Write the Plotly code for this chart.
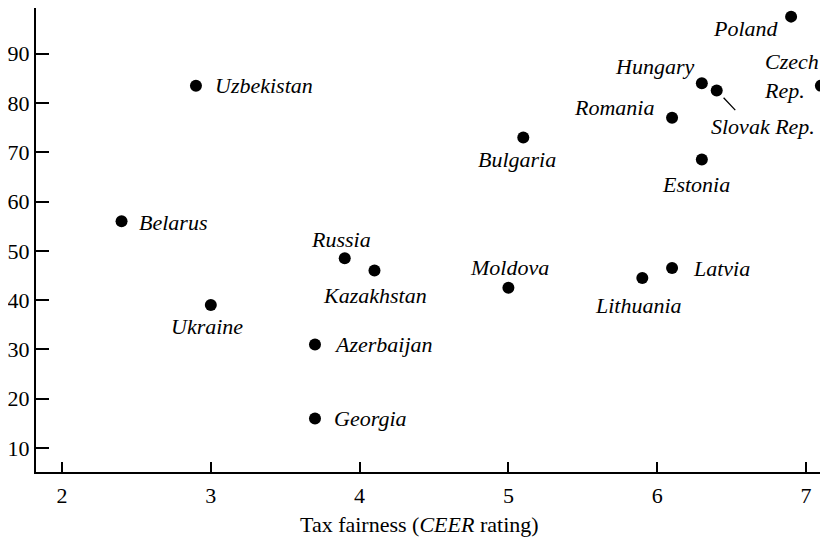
import plotly.graph_objects as go

countries = ['Poland', 'Czech<br>Rep.', 'Hungary', 'Slovak Rep.', 'Romania', 'Estonia',
             'Bulgaria', 'Moldova', 'Lithuania', 'Latvia', 'Uzbekistan', 'Belarus',
             'Russia', 'Kazakhstan', 'Ukraine', 'Azerbaijan', 'Georgia']
tax_fairness = [6.9, 7.1, 6.3, 6.4, 6.1, 6.3, 5.1, 5.0, 5.9, 6.1, 2.9, 2.4,
                3.9, 4.1, 3.0, 3.7, 3.7]
y_values = [97.5, 83.5, 84, 82.5, 77, 68.5, 73, 42.5, 44.5, 46.5, 83.5, 56,
            48.5, 46, 39, 31, 16]

x_ticks = [2, 3, 4, 5, 6, 7]
y_ticks = [10, 20, 30, 40, 50, 60, 70, 80, 90]

# label placement: pixel offset from dot, x anchor
label_pos = {
    'Poland': (-10, 12, 'right'),
    'Czech<br>Rep.': (-59, -10, 'left'),
    'Hungary': (-6, -17, 'right'),
    'Slovak Rep.': (-8, 36, 'left'),
    'Romania': (-16, -10, 'right'),
    'Estonia': (-6, 25, 'center'),
    'Bulgaria': (-6, 22, 'center'),
    'Moldova': (1, -20, 'center'),
    'Lithuania': (-4, 28, 'center'),
    'Latvia': (19, 0, 'left'),
    'Uzbekistan': (17, 0, 'left'),
    'Belarus': (15, 1, 'left'),
    'Russia': (-4, -19, 'center'),
    'Kazakhstan': (1, 25, 'center'),
    'Ukraine': (-4, 21, 'center'),
    'Azerbaijan': (17, 0, 'left'),
    'Georgia': (17, 0, 'left'),
}

serif = 'Liberation Serif, Times New Roman, serif'

fig = go.Figure(go.Scatter(x=tax_fairness, y=y_values, mode='markers',
                           marker=dict(color='black', size=12),
                           cliponaxis=False, hoverinfo='text', text=countries))

annotations = []
for name, xv, yv in zip(countries, tax_fairness, y_values):
    dx, dy, anchor = label_pos[name]
    annotations.append(dict(x=xv, y=yv, text='<i>' + name + '</i>', showarrow=False,
                            xshift=dx, yshift=-dy, xanchor=anchor, yanchor='middle',
                            align='left', font=dict(family=serif, size=22, color='black')))

# leader line for Slovak Rep.
annotations.append(dict(x=6.4, y=82.5, text='', showarrow=True, arrowhead=0,
                        arrowwidth=1.3, arrowcolor='black', ax=20, ay=21,
                        standoff=10, startstandoff=0))

annotations.append(dict(xref='paper', yref='paper', x=0.4836, y=0, yanchor='top',
                        yshift=-38, showarrow=False,
                        text='Tax fairness (<i>CEER</i> rating)',
                        font=dict(family=serif, size=22, color='black')))

# page body adds ~8px margin, so the figure is sized to fit the window
fig.update_layout(
    width=820, height=532,
    margin=dict(l=28, r=0, t=0, b=68),
    plot_bgcolor='white', paper_bgcolor='white',
    showlegend=False,
    font=dict(family=serif, size=22, color='black'),
    annotations=annotations,
    xaxis=dict(range=[1.825, 7.148], tickvals=x_ticks, ticks='inside', ticklen=10,
               tickwidth=1.5, tickcolor='black', showgrid=False, zeroline=False,
               showline=True, linecolor='black', linewidth=2, mirror=True,
               automargin=False, ticklabelstandoff=3),
    yaxis=dict(range=[5.13, 99.25], tickvals=y_ticks, ticks='inside', ticklen=13,
               tickwidth=1.5, tickcolor='black', showgrid=False, zeroline=False,
               showline=True, linecolor='black', linewidth=2, automargin=False),
)

fig.write_html("out.html")
